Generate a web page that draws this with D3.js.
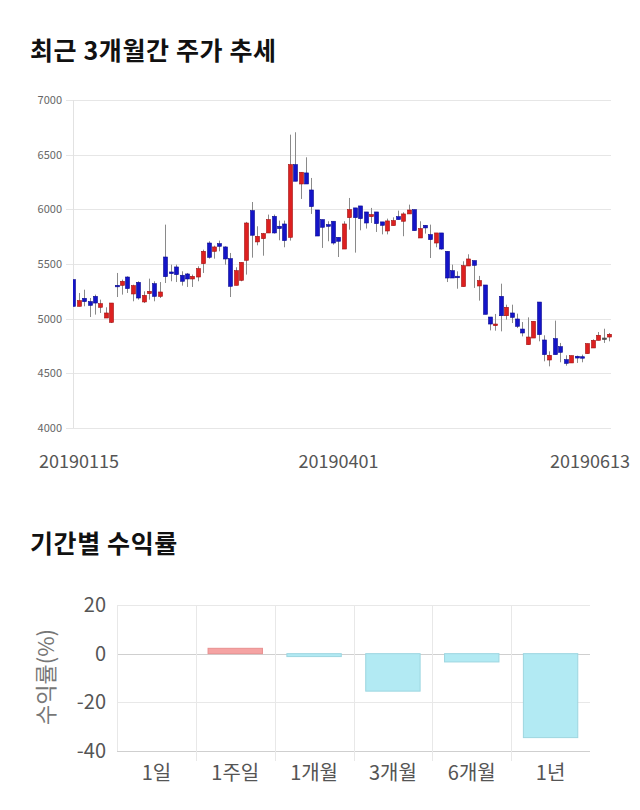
<!DOCTYPE html>
<html><head><meta charset="utf-8">
<script src="https://cdn.jsdelivr.net/npm/d3@7"></script>
<style>
body{margin:0;background:#fff;font-family:"Noto Sans CJK KR","Noto Sans",sans-serif;}
</style></head>
<body><svg id="c" width="640" height="810"></svg>
<script>
// ---- Candlestick data (100 trading days, 20190115 .. 20190613) ----
const openP  = [5357,5113,5186,5156,5204,5104,5006,4966,5305,5305,5381,5226,5332,5153,5229,5320,5204,5564,5427,5473,
5397,5409,5363,5381,5503,5692,5616,5686,5656,5549,5305,5351,5534,5988,5702,5732,5784,5936,5845,5866,
5744,6409,6232,6333,6177,5994,5906,5860,5891,5744,5637,5924,6013,6031,5976,5933,5976,5885,5802,5851,
5933,5891,5958,5997,5738,5854,5769,5692,5784,5616,5439,5388,5293,5482,5531,5299,5308,5015,4936,5204,
5027,5052,4997,4905,4762,4823,5152,4805,4622,4817,4744,4625,4595,4656,4652,4680,4732,4802,4823,4832];
const highP  = [5357,5235,5265,5189,5220,5174,5104,5143,5418,5357,5387,5311,5342,5250,5366,5342,5335,5860,5494,5494,
5433,5418,5403,5479,5631,5708,5668,5714,5662,5601,5470,5515,5885,6067,5845,5784,5952,5952,5897,5897,
6683,6705,6339,6476,6287,5994,5906,5891,5891,5744,5891,6104,6013,6031,5976,6013,5976,5885,5915,5927,
5988,5973,6043,5997,5891,5854,5860,5784,5784,5616,5494,5433,5525,5589,5531,5391,5308,5015,5043,5320,
5128,5128,5046,4969,5012,4976,5152,4848,4701,4982,4778,4665,4662,4662,4671,4772,4811,4878,4908,4869];
const lowP   = [5113,5113,5113,5015,5037,5052,5006,4960,5198,5220,5235,5159,5174,5143,5174,5159,5189,5326,5342,5335,
5302,5290,5290,5342,5418,5549,5549,5616,5494,5198,5305,5342,5403,5558,5671,5576,5784,5778,5717,5653,
5714,6257,6095,6232,5958,5756,5647,5708,5677,5564,5637,5814,5604,5808,5824,5875,5793,5771,5771,5851,
5906,5754,5958,5805,5738,5778,5555,5653,5631,5335,5372,5274,5293,5482,5281,5165,5040,4893,4890,4884,
4991,4960,4914,4838,4762,4823,4793,4610,4564,4671,4601,4570,4595,4595,4601,4680,4732,4802,4778,4793];
const closeP = [5113,5165,5156,5122,5143,5137,5052,5143,5300,5342,5275,5302,5189,5213,5250,5204,5244,5384,5412,5403,
5342,5363,5387,5458,5616,5561,5656,5662,5546,5296,5439,5515,5875,5763,5753,5778,5906,5784,5824,5714,
6409,6257,6339,6232,6025,5756,5836,5845,5692,5708,5866,5997,5924,5915,5875,5952,5869,5854,5894,5897,
5906,5958,5994,5805,5824,5830,5723,5784,5637,5372,5372,5381,5485,5546,5488,5348,5040,4951,4951,5027,
5104,5012,4930,4869,4832,4976,4854,4671,4665,4671,4692,4591,4662,4640,4650,4772,4802,4848,4823,4857];
const priceTicks = [4000,4500,5000,5500,6000,6500,7000];
const dateLabels = ["20190115","20190401","20190613"];
const dateLabelIdx = [0,49,99];

// ---- Returns data ----
const periods = ["1일","1주일","1개월","3개월","6개월","1년"];
const returns = [0, 2.2, -1.2, -15.4, -3.4, -34.5];
const returnTicks = [20,0,-20,-40];

const svg = d3.select("#c");
const font = '"Noto Sans CJK KR","Noto Sans",sans-serif';

// ---------- Chart 1 ----------
svg.append("text").attr("x",30).attr("y",60).text("최근 3개월간 주가 추세")
  .attr("font-family",font).attr("font-size",25).attr("font-weight","bold").attr("fill","#111")
  .attr("letter-spacing",0.6);

const y1 = d3.scaleLinear().domain([4000,7000]).range([428,100]);
const x1 = d3.scalePoint().domain(d3.range(openP.length)).range([73.3,609]);

const g1 = svg.append("g");
g1.selectAll("line.grid").data(priceTicks).join("line")
  .attr("x1",66).attr("x2",611).attr("y1",d=>Math.round(y1(d))+0.5).attr("y2",d=>Math.round(y1(d))+0.5)
  .attr("stroke","#e6e6e6").attr("stroke-width",1);
g1.append("line").attr("x1",73.5).attr("x2",73.5).attr("y1",y1(7000)).attr("y2",y1(4000))
  .attr("stroke","#e2e2e2");
g1.selectAll("text.yl").data(priceTicks).join("text")
  .attr("x",62).attr("y",d=>y1(d)+4).attr("text-anchor","end")
  .attr("font-family",font).attr("font-size",11).attr("fill","#666").text(d=>d);

svg.append("defs").append("clipPath").attr("id","pc").append("rect")
  .attr("x",73).attr("y",90).attr("width",539).attr("height",345);
const cg = g1.append("g").attr("clip-path","url(#pc)");
const idx = d3.range(openP.length);
cg.selectAll("line.w").data(idx).join("line")
  .attr("x1",i=>Math.round(x1(i))+0.5).attr("x2",i=>Math.round(x1(i))+0.5)
  .attr("y1",i=>y1(highP[i])).attr("y2",i=>y1(lowP[i]))
  .attr("stroke","#8a8a8a").attr("stroke-width",1);
cg.selectAll("rect.b").data(idx).join("rect")
  .attr("x",i=>Math.round(x1(i))-1.5).attr("width",4)
  .attr("y",i=>y1(Math.max(openP[i],closeP[i])))
  .attr("height",i=>Math.max(1.5,Math.abs(y1(openP[i])-y1(closeP[i]))))
  .attr("fill",i=>closeP[i]>openP[i]?"#dd2020":(closeP[i]<openP[i]?"#1414c8":"#555"))
  .attr("stroke",i=>closeP[i]>openP[i]?"#a01010":(closeP[i]<openP[i]?"#0a0a90":"#444"))
  .attr("stroke-width",0.6);

g1.selectAll("text.xl").data(dateLabels).join("text")
  .attr("x",(d,k)=>Math.min(Math.max(x1(dateLabelIdx[k]),79),590))
  .attr("y",468).attr("text-anchor","middle")
  .attr("font-family",font).attr("font-size",18).attr("fill","#555").text(d=>d);

// ---------- Chart 2 ----------
svg.append("text").attr("x",30).attr("y",553).text("기간별 수익률")
  .attr("font-family",font).attr("font-size",25).attr("font-weight","bold").attr("fill","#111")
  .attr("letter-spacing",0.6);

const y2 = d3.scaleLinear().domain([-40,20]).range([751,605]);
const x2 = d3.scaleBand().domain(periods).range([117,590]);
const g2 = svg.append("g");
g2.selectAll("line.hg").data(returnTicks).join("line")
  .attr("x1",117).attr("x2",590).attr("y1",d=>Math.round(y2(d))+0.5).attr("y2",d=>Math.round(y2(d))+0.5)
  .attr("stroke",d=>(d===0||d===-40)?"#cfcfcf":"#e8e8e8");
g2.selectAll("line.vg").data(periods.slice(1)).join("line")
  .attr("x1",d=>Math.round(x2(d))+0.5).attr("x2",d=>Math.round(x2(d))+0.5)
  .attr("y1",605).attr("y2",761).attr("stroke","#e8e8e8");
g2.append("line").attr("x1",117.5).attr("x2",117.5).attr("y1",605).attr("y2",751).attr("stroke","#e8e8e8");
g2.selectAll("text.yl").data(returnTicks).join("text")
  .attr("x",106).attr("y",d=>y2(d)+7).attr("text-anchor","end")
  .attr("font-family",font).attr("font-size",20).attr("fill","#555").text(d=>d);
g2.append("text").attr("transform","translate(54,677) rotate(-90)").attr("text-anchor","middle")
  .attr("font-family",font).attr("font-size",22).attr("fill","#777").text("수익률(%)");
const bw = x2.bandwidth();
g2.selectAll("rect.bar").data(periods).join("rect")
  .attr("x",d=>x2(d)+bw*0.155).attr("width",bw*0.69)
  .attr("y",(d,i)=>y2(Math.max(0,returns[i])))
  .attr("height",(d,i)=>Math.abs(y2(returns[i])-y2(0)))
  .attr("fill",(d,i)=>returns[i]>=0?"#f5a3a3":"#b2eaf3")
  .attr("stroke",(d,i)=>returns[i]>=0?"#e89090":"#9dd6e0").attr("stroke-width",1);
g2.selectAll("text.xl").data(periods).join("text")
  .attr("x",d=>x2(d)+bw/2).attr("y",780).attr("text-anchor","middle")
  .attr("font-family",font).attr("font-size",20).attr("fill","#555").text(d=>d);
</script></body></html>
